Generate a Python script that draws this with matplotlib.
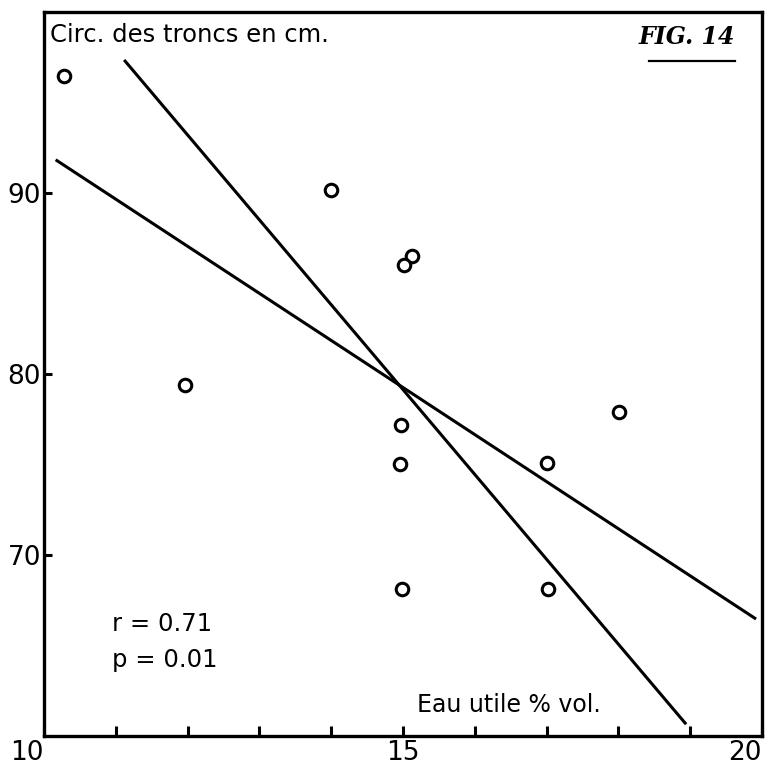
import matplotlib.pyplot as plt

# trunk girth vs available water
eau = [10.28, 14.0, 15.13, 15.01, 11.96, 14.97, 14.96, 14.99, 18.01, 17.0, 17.02]
circ = [96.5, 90.2, 86.5, 86.0, 79.4, 77.2, 75.0, 68.1, 77.9, 75.1, 68.1]

# the two regression lines (end points)
reg1_x = [10.18, 19.9]
reg1_y = [91.8, 66.5]
reg2_x = [11.13, 18.93]
reg2_y = [97.3, 60.7]

xticks = list(range(10, 21))
xlabels = {10: "10", 15: "15", 20: "20"}
yticks = [70, 80, 90]

fig = plt.figure(figsize=(7.72, 7.68), dpi=100)
ax = fig.add_axes([0.057, 0.042, 0.930, 0.942])

ax.plot(eau, circ, "o", ms=9, mfc="white", mec="black", mew=2.2, zorder=3)
ax.plot(reg1_x, reg1_y, color="black", lw=2.2)
ax.plot(reg2_x, reg2_y, color="black", lw=2.2)

ax.set_xlim(10, 20)
ax.set_ylim(60, 100)

for s in ax.spines.values():
    s.set_linewidth(2.4)

ax.set_xticks(xticks)
ax.set_xticklabels([xlabels.get(t, "") for t in xticks])
ax.set_yticks(yticks)
ax.tick_params(direction="in", length=7, width=2.2, labelsize=19, pad=3)
for lab, t in zip(ax.get_xticklabels(), xticks):
    if t == 10 or t == 20:
        lab.set_horizontalalignment("right")
ax.tick_params(axis="y", pad=2, length=6)

ax.text(0.008, 0.968, "Circ. des troncs en cm.", transform=ax.transAxes,
        fontsize=17.5, va="center", ha="left")
ax.text(0.962, 0.966, "FIG. 14", transform=ax.transAxes, fontsize=17,
        family="DejaVu Serif", style="italic", weight="bold",
        va="center", ha="right")
ax.plot([0.843, 0.962], [0.932, 0.932], transform=ax.transAxes,
        color="black", lw=1.6)

ax.text(0.095, 0.155, "r = 0.71", transform=ax.transAxes, fontsize=17.5, va="center")
ax.text(0.095, 0.105, "p = 0.01", transform=ax.transAxes, fontsize=17.5, va="center")
ax.text(0.52, 0.043, "Eau utile % vol.", transform=ax.transAxes, fontsize=17, va="center")

fig.savefig("out.png", dpi=100)
